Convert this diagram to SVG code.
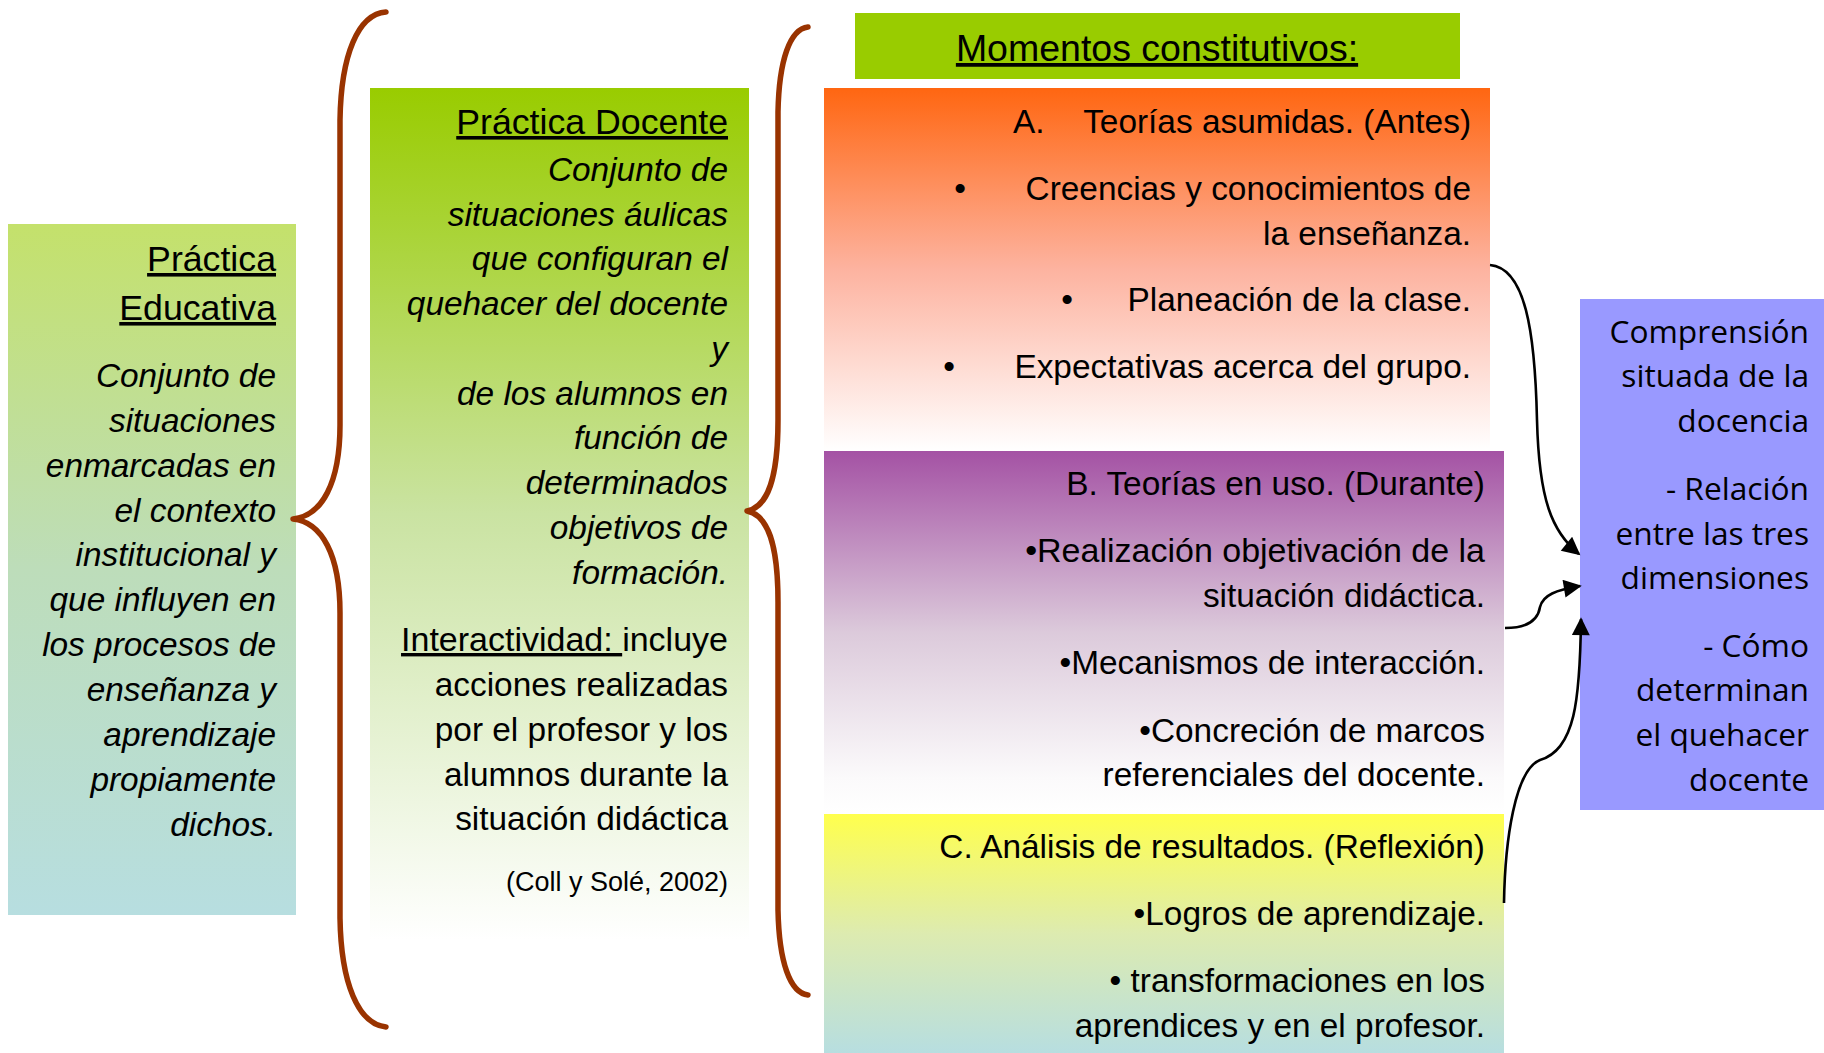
<svg xmlns="http://www.w3.org/2000/svg" width="1824" height="1053" viewBox="0 0 1824 1053">
<style>
text{font-family:"Liberation Sans",Arial,sans-serif;font-size:33.4px;fill:#000}
.e{text-anchor:end}
.m{text-anchor:middle}
.i{font-style:italic}
.h{font-size:35.7px}
.u{text-decoration:underline}
.r{font-family:"Open Sans",sans-serif;font-size:31.7px}
.brace{fill:none;stroke:#993300;stroke-width:5.5;stroke-linecap:round;stroke-linejoin:round}
.conn{fill:none;stroke:#000;stroke-width:2.6}
</style>
<defs>
<linearGradient id="gEdu" x1="0" y1="0" x2="0" y2="1">
<stop offset="0" stop-color="#C4E16B"/><stop offset="0.5" stop-color="#BDDDBA"/><stop offset="1" stop-color="#B7DEE0"/>
</linearGradient>
<linearGradient id="gDoc" x1="0" y1="0" x2="0" y2="1">
<stop offset="0" stop-color="#99CC00"/><stop offset="0.5" stop-color="#CAE3A2"/><stop offset="1" stop-color="#FFFFFF"/>
</linearGradient>
<linearGradient id="gA" x1="0" y1="0" x2="0" y2="1">
<stop offset="0" stop-color="#FF6611"/><stop offset="0.5" stop-color="#FDB3A0"/><stop offset="1" stop-color="#FFFFFF"/>
</linearGradient>
<linearGradient id="gB" x1="0" y1="0" x2="0" y2="1">
<stop offset="0" stop-color="#A452A4"/><stop offset="0.5" stop-color="#DCCADB"/><stop offset="0.9" stop-color="#FBFAFB"/><stop offset="1" stop-color="#FFFFFF"/>
</linearGradient>
<linearGradient id="gC" x1="0" y1="0" x2="0" y2="1">
<stop offset="0" stop-color="#FFFF4D"/><stop offset="0.5" stop-color="#DDEBB0"/><stop offset="1" stop-color="#B7DEE0"/>
</linearGradient>
<marker id="arr" viewBox="0 0 10 10" refX="9" refY="5" markerUnits="userSpaceOnUse" markerWidth="22" markerHeight="18" orient="auto">
<path d="M0,0 L10,5 L0,10 z" fill="#000"/>
</marker>
</defs>

<g id="practica-educativa">
<rect x="8" y="224" width="288" height="691" fill="url(#gEdu)"/>
<text class="h e u" x="276" y="271">Práctica</text>
<text class="h e u" x="276" y="320">Educativa</text>
<text class="i e" x="276" y="387">Conjunto de</text>
<text class="i e" x="276" y="432">situaciones</text>
<text class="i e" x="276" y="477">enmarcadas en</text>
<text class="i e" x="276" y="522">el contexto</text>
<text class="i e" x="276" y="566">institucional y</text>
<text class="i e" x="276" y="611">que influyen en</text>
<text class="i e" x="276" y="656">los procesos de</text>
<text class="i e" x="276" y="701">enseñanza y</text>
<text class="i e" x="276" y="746">aprendizaje</text>
<text class="i e" x="276" y="791">propiamente</text>
<text class="i e" x="276" y="836">dichos.</text>
</g>

<g id="brace-1">
<path class="brace" d="M386,12 C358,14 341,55 340,120 L340,425 C340,483 322,516 293,519 C322,522 340,555 340,613 L340,918 C341,983 358,1024 386,1027"/>
</g>

<g id="practica-docente">
<rect x="370" y="88" width="379" height="852" fill="url(#gDoc)"/>
<text class="h e u" x="728" y="134">Práctica Docente</text>
<text class="i e" x="728" y="181">Conjunto de</text>
<text class="i e" x="728" y="226">situaciones áulicas</text>
<text class="i e" x="728" y="270">que configuran el</text>
<text class="i e" x="728" y="315">quehacer del docente</text>
<text class="i e" x="728" y="360">y</text>
<text class="i e" x="728" y="405">de los alumnos en</text>
<text class="i e" x="728" y="449">función de</text>
<text class="i e" x="728" y="494">determinados</text>
<text class="i e" x="728" y="539">objetivos de</text>
<text class="i e" x="728" y="584">formación.</text>
<text class="e" x="728" y="651" style="font-size:34px"><tspan class="u">Interactividad: </tspan>incluye</text>
<text class="e" x="728" y="696">acciones realizadas</text>
<text class="e" x="728" y="741">por el profesor y los</text>
<text class="e" x="728" y="786">alumnos durante la</text>
<text class="e" x="728" y="830">situación didáctica</text>
<text class="e" x="728" y="891" style="font-size:27px">(Coll y Solé, 2002)</text>
</g>

<g id="brace-2">
<path class="brace" d="M808,27 C790,29 779,60 778,112 L778,420 C778,478 768,507 747,511 C768,515 778,544 778,602 L778,910 C779,962 790,993 808,995"/>
</g>

<g id="momentos">
<rect x="855" y="13" width="605" height="66" fill="#99CC00"/>
<text class="m u" x="1157" y="61" style="font-size:37.5px">Momentos constitutivos:</text>
</g>

<g id="momento-a">
<rect x="824" y="88" width="666" height="363" fill="url(#gA)"/>
<text x="1013" y="133">A.</text>
<text class="e" x="1471" y="133">Teorías asumidas. (Antes)</text>
<text class="m" x="960" y="200">•</text>
<text class="e" x="1471" y="200">Creencias y conocimientos de</text>
<text class="e" x="1471" y="245">la enseñanza.</text>
<text class="m" x="1067" y="311">•</text>
<text class="e" x="1471" y="311">Planeación de la clase.</text>
<text class="m" x="949" y="378">•</text>
<text class="e" x="1471" y="378">Expectativas acerca del grupo.</text>
</g>

<g id="momento-b">
<rect x="824" y="451" width="680" height="363" fill="url(#gB)"/>
<text class="e" x="1485" y="495">B. Teorías en uso. (Durante)</text>
<text class="e" x="1485" y="562" style="font-size:34px">•Realización objetivación de la</text>
<text class="e" x="1485" y="607">situación didáctica.</text>
<text class="e" x="1485" y="674">•Mecanismos de interacción.</text>
<text class="e" x="1485" y="742">•Concreción de marcos</text>
<text class="e" x="1485" y="786">referenciales del docente.</text>
</g>

<g id="momento-c">
<rect x="824" y="814" width="680" height="239" fill="url(#gC)"/>
<text class="e" x="1485" y="858">C. Análisis de resultados. (Reflexión)</text>
<text class="e" x="1485" y="925">•Logros de aprendizaje.</text>
<text class="e" x="1485" y="992">• transformaciones en los</text>
<text class="e" x="1485" y="1037">aprendices y en el profesor.</text>
</g>

<g id="comprension">
<rect x="1580" y="299" width="244" height="511" fill="#9999FF"/>
<text class="r e" x="1809" y="343">Comprensión</text>
<text class="r e" x="1809" y="387">situada de la</text>
<text class="r e" x="1809" y="432">docencia</text>
<text class="r e" x="1809" y="500">- Relación</text>
<text class="r e" x="1809" y="545">entre las tres</text>
<text class="r e" x="1809" y="589">dimensiones</text>
<text class="r e" x="1809" y="657">- Cómo</text>
<text class="r e" x="1809" y="701">determinan</text>
<text class="r e" x="1809" y="746">el quehacer</text>
<text class="r e" x="1809" y="791">docente</text>
</g>

<g id="connectors">
<path class="conn" marker-end="url(#arr)" d="M1490,265 C1525,268 1535,330 1537,420 C1539,500 1552,532 1579,554"/>
<path class="conn" marker-end="url(#arr)" d="M1505,628 C1528,628 1538,620 1540,607 C1543,595 1556,590 1580,586"/>
<path class="conn" marker-end="url(#arr)" d="M1504,903 C1505,840 1515,770 1540,760 C1575,750 1580,700 1581,619"/>
</g>
</svg>
